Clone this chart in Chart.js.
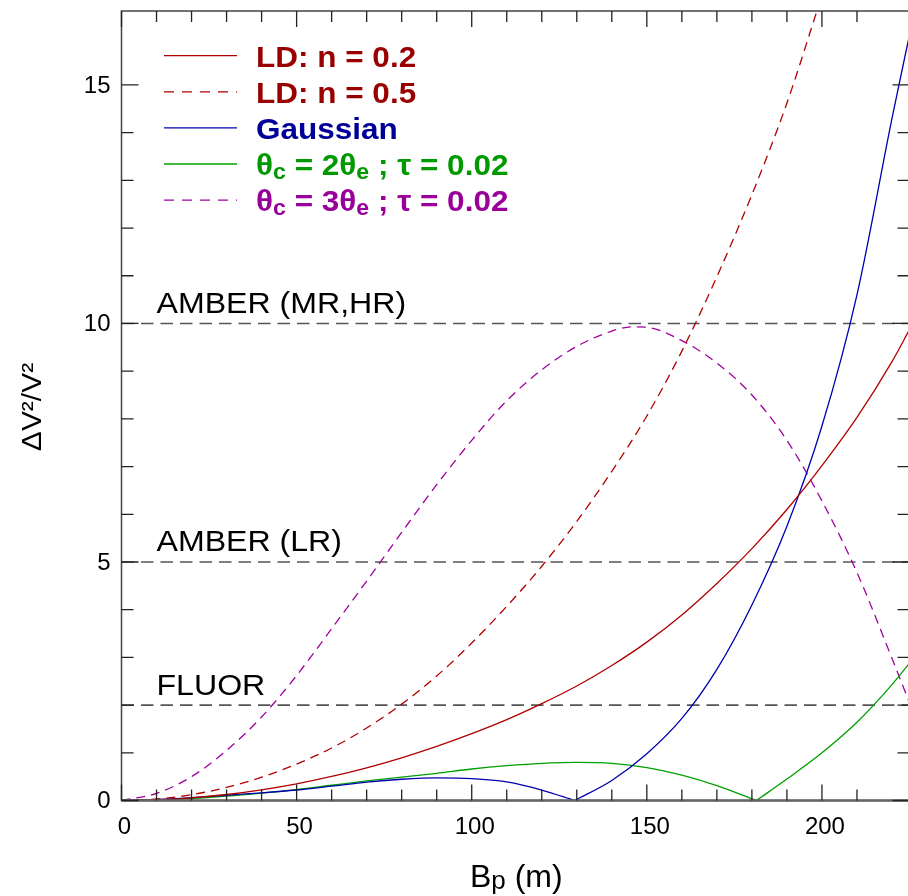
<!DOCTYPE html>
<html>

<head>
  <title>Visibility accuracy vs projected baseline</title>
  <meta charset="UTF-8">
  <script src="https://cdn.jsdelivr.net/npm/chart.js@4.4.1/dist/chart.umd.min.js"></script>
  <style>
    html, body { margin: 0; padding: 0; overflow: hidden; background: #fff; }
    canvas { display: block; }
  </style>
</head>

<body>
  <canvas id="myChart" width="912" height="896"></canvas>
  <script>
    // projected baseline B_p (m) and dV2/V2
    var bGrid = [0, 10, 20, 30, 40, 50, 60, 70, 80, 90, 100, 110, 120, 130, 140, 150, 160, 170, 180, 190, 200, 210, 220, 225];
    var ldN02 = [0, 0.014, 0.056, 0.126, 0.224, 0.35, 0.504, 0.686, 0.896, 1.134, 1.40, 1.694, 2.03, 2.40, 2.83, 3.32, 3.89, 4.55, 5.28, 6.10, 7.02, 8.03, 9.20, 9.87];
    var ldN05 = [0, 0.031, 0.122, 0.275, 0.488, 0.763, 1.10, 1.52, 2.02, 2.61, 3.30, 4.07, 4.91, 5.85, 6.90, 8.06, 9.42, 10.98, 12.70, 14.62, 16.88];

    var gaussB1 = [0, 10, 20, 30, 40, 50, 60, 70, 80, 90, 100, 110, 120, 129.4];
    var gaussV1 = [0, 0.02, 0.06, 0.11, 0.16, 0.22, 0.30, 0.385, 0.445, 0.475, 0.46, 0.39, 0.22, 0];
    var gaussB2 = [129.4, 140, 150, 160, 170, 180, 190, 200, 210, 220, 225];
    var gaussV2 = [0, 0.42, 0.98, 1.72, 2.75, 4.10, 5.75, 7.85, 10.6, 14.3, 16.05];

    var disk2B1 = [0, 10, 20, 30, 40, 50, 60, 70, 80, 90, 100, 110, 120, 130, 140, 150, 160, 170, 180, 181.3];
    var disk2V1 = [0, 0.01, 0.04, 0.09, 0.155, 0.23, 0.32, 0.41, 0.49, 0.57, 0.66, 0.73, 0.78, 0.80, 0.78, 0.69, 0.53, 0.31, 0.035, 0];
    var disk2B2 = [181.3, 190, 200, 210, 220, 225];
    var disk2V2 = [0, 0.45, 1.0, 1.64, 2.43, 2.88];

    var disk3B = [0, 10, 20, 30, 40, 50, 60, 70, 80, 90, 100, 110, 120, 130, 140, 146, 150, 160, 170, 180, 190, 200, 210, 220, 225];
    var disk3V = [0, 0.15, 0.50, 1.05, 1.75, 2.62, 3.60, 4.60, 5.62, 6.62, 7.55, 8.38, 9.03, 9.52, 9.84, 9.93, 9.92, 9.64, 9.17, 8.50, 7.55, 6.28, 4.78, 2.98, 2.05];

    // instrument limits
    var levels = [10, 5, 2];
    var levelNames = ['AMBER (MR,HR)', 'AMBER (LR)', 'FLUOR'];

    function pts(xs, ys) {
      var out = [];
      for (let i = 0; i < ys.length; i++) {
        if (ys[i] !== null) out.push({ x: xs[i], y: ys[i] });
      }
      return out;
    }

    var red = '#b00000', blue = '#0000b0', green = '#00a000', purple = '#a000a0';

    function curve(data, color, dash) {
      return {
        data: data,
        borderColor: color,
        borderWidth: 1.3,
        borderDash: dash || [],
        pointRadius: 0,
        fill: false,
        cubicInterpolationMode: 'monotone'
      };
    }

    var datasets = [
      curve(pts(bGrid, ldN02), red),
      curve(pts(bGrid, ldN05), red, [9, 6]),
      curve(pts(gaussB1, gaussV1), blue),
      curve(pts(gaussB2, gaussV2), blue),
      curve(pts(disk2B1, disk2V1), green),
      curve(pts(disk2B2, disk2V2), green),
      curve(pts(disk3B, disk3V), purple, [9, 6])
    ];
    levels.forEach(function (lv) {
      datasets.push({
        data: [{ x: 0, y: lv }, { x: 225, y: lv }],
        borderColor: '#555',
        borderWidth: 1.6,
        borderDash: [12.5, 7],
        pointRadius: 0,
        fill: false
      });
    });

    var legendRows = [
      { parts: [['LD: n = 0.2']], text: '#990000', line: red, dash: [] },
      { parts: [['LD: n = 0.5']], text: '#990000', line: red, dash: [10, 8] },
      { parts: [['Gaussian']], text: '#000099', line: blue, dash: [] },
      { parts: [['\u03b8'], ['c', 1], [' = 2\u03b8'], ['e', 1], [' ; \u03c4 = 0.02']], text: '#009900', line: green, dash: [] },
      { parts: [['\u03b8'], ['c', 1], [' = 3\u03b8'], ['e', 1], [' ; \u03c4 = 0.02']], text: '#990099', line: purple, dash: [10, 8] }
    ];

    var decor = {
      id: 'decor',
      afterDraw: function (chart) {
        var ctx = chart.ctx, a = chart.chartArea;
        var xs = chart.scales.x, ys = chart.scales.y;
        ctx.save();

        // frame
        ctx.strokeStyle = '#444';
        ctx.lineWidth = 1.5;
        ctx.strokeRect(a.left, a.top, a.right - a.left, a.bottom - a.top);
        ctx.strokeStyle = '#666';
        ctx.lineWidth = 2.5;
        ctx.beginPath();
        ctx.moveTo(a.left, a.bottom);
        ctx.lineTo(a.right, a.bottom);
        ctx.stroke();

        // inward ticks
        ctx.strokeStyle = '#222';
        ctx.lineWidth = 1.3;
        ctx.beginPath();
        xs.ticks.forEach(function (t) {
          if (t.value % 10 !== 0) return;
          var px = xs.getPixelForValue(t.value);
          var len = t.value % 50 === 0 ? 16 : 11;
          ctx.moveTo(px, a.bottom); ctx.lineTo(px, a.bottom - len);
          ctx.moveTo(px, a.top); ctx.lineTo(px, a.top + len);
        });
        ys.ticks.forEach(function (t) {
          if (t.value % 1 !== 0) return;
          var py = ys.getPixelForValue(t.value);
          var len = t.value % 5 === 0 ? 17 : 12;
          ctx.moveTo(a.left, py); ctx.lineTo(a.left + len, py);
          ctx.moveTo(a.right, py); ctx.lineTo(a.right - len, py);
        });
        ctx.stroke();

        // level names
        ctx.fillStyle = '#000';
        ctx.font = '30px "Liberation Sans", Arial, sans-serif';
        ctx.textBaseline = 'alphabetic';
        ctx.textAlign = 'left';
        levels.forEach(function (lv, i) {
          var py = ys.getPixelForValue(lv);
          ctx.save();
          ctx.translate(156.5, py - 10.5);
          ctx.scale(1.07, 1);
          ctx.fillText(levelNames[i], 0, 0);
          ctx.restore();
        });

        // legend
        legendRows.forEach(function (row, i) {
          var ly = 55.7 + i * 36.1;
          ctx.strokeStyle = row.line;
          ctx.lineWidth = 1.3;
          ctx.setLineDash(row.dash);
          ctx.beginPath();
          ctx.moveTo(164, ly);
          ctx.lineTo(237, ly);
          ctx.stroke();
          ctx.setLineDash([]);
          ctx.fillStyle = row.text;
          ctx.save();
          ctx.translate(256, ly + 11);
          ctx.scale(1.05, 1);
          var x = 0;
          row.parts.forEach(function (p) {
            ctx.font = p[1] ? 'bold 22px "Liberation Sans", Arial, sans-serif' : 'bold 30px "Liberation Sans", Arial, sans-serif';
            ctx.fillText(p[0], x, p[1] ? 4 : 0);
            x += ctx.measureText(p[0]).width;
          });
          ctx.restore();
        });

        // axis titles
        ctx.fillStyle = '#000';
        ctx.save();
        ctx.translate(41, 407);
        ctx.rotate(-Math.PI / 2);
        ctx.scale(1.07, 1);
        ctx.textAlign = 'center';
        ctx.font = '28px "Liberation Sans", Arial, sans-serif';
        ctx.fillText('\u0394V\u00b2/V\u00b2', 0, 0);
        ctx.restore();

        var tx = 470;
        ctx.font = '32px "Liberation Sans", Arial, sans-serif';
        ctx.fillText('B', tx, 887);
        tx += ctx.measureText('B').width;
        ctx.font = '26px "Liberation Sans", Arial, sans-serif';
        ctx.fillText('p', tx, 889);
        tx += ctx.measureText('p').width;
        ctx.font = '32px "Liberation Sans", Arial, sans-serif';
        ctx.fillText(' (m)', tx, 887);

        ctx.restore();
      }
    };

    function noPad(s) {
      s.paddingTop = 0;
      s.paddingBottom = 0;
      s.paddingLeft = 0;
      s.paddingRight = 0;
    }

    var ctx = document.getElementById('myChart').getContext('2d');
    var chart = new Chart(ctx, {
      type: 'line',
      data: { datasets: datasets },
      options: {
        responsive: false,
        animation: false,
        layout: { padding: { top: 11, right: 2.5, left: 0, bottom: 0 } },
        plugins: { legend: { display: false }, tooltip: { enabled: false } },
        scales: {
          x: {
            type: 'linear',
            min: 0,
            max: 225,
            grid: { display: false, drawTicks: false },
            border: { display: false },
            ticks: {
              stepSize: 10,
              autoSkip: false,
              maxRotation: 0,
              padding: 12,
              labelOffset: 3,
              color: '#000',
              font: { family: '"Liberation Sans", Arial, sans-serif', size: 24 },
              callback: function (v) { return v % 50 === 0 ? String(v) : ''; }
            },
            afterFit: function (s) { s.height = 95.5; noPad(s); }
          },
          y: {
            min: 0,
            max: 16.55,
            grid: { display: false, drawTicks: false },
            border: { display: false },
            ticks: {
              stepSize: 1,
              autoSkip: false,
              padding: 11,
              labelOffset: 1,
              color: '#000',
              font: { family: '"Liberation Sans", Arial, sans-serif', size: 24 },
              callback: function (v) { return v % 5 === 0 ? String(v) : ''; }
            },
            afterFit: function (s) { s.width = 121.5; noPad(s); }
          }
        }
      },
      plugins: [decor]
    });
  </script>
</body>

</html>
